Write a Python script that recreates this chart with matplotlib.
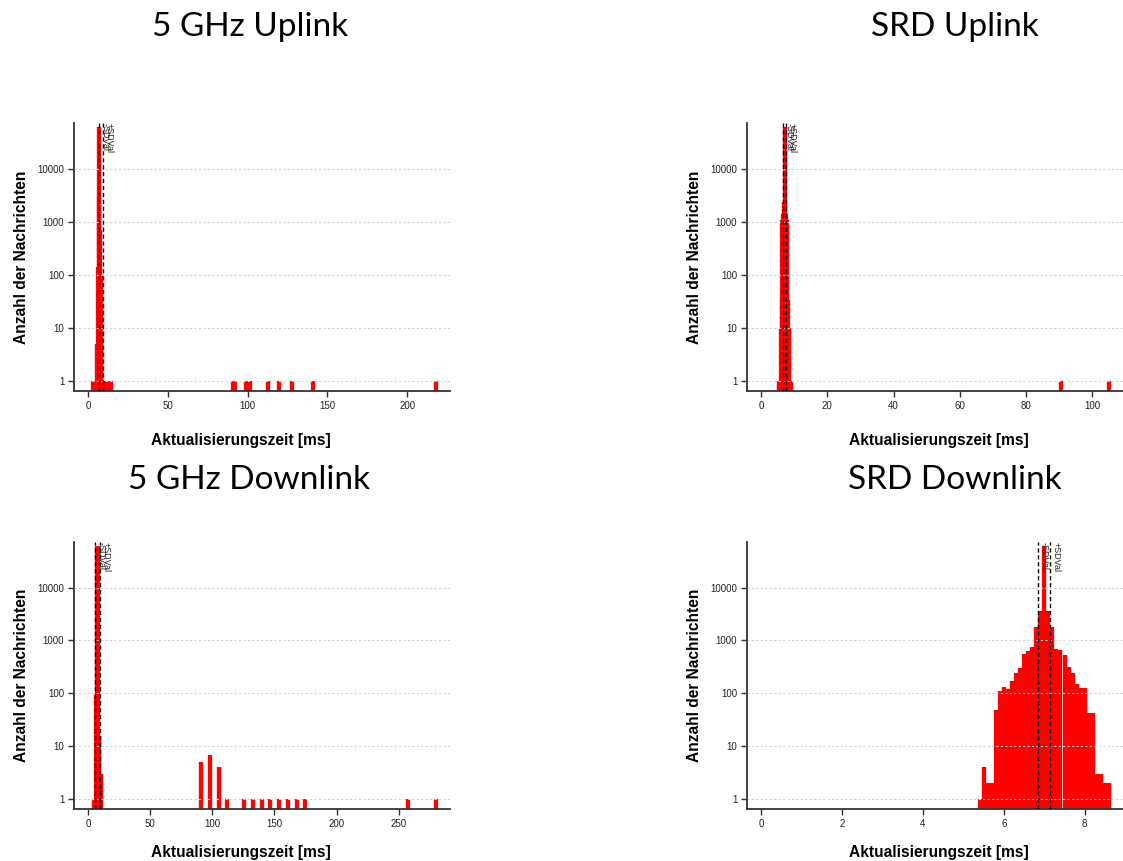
import matplotlib
matplotlib.use("Agg")
import matplotlib.pyplot as plt
from matplotlib.ticker import FixedLocator, NullLocator, FixedFormatter

# ---- update-time samples (ms) and their message counts ----
ul5_values = [3.2, 4.5, 5.9, 6.5, 6.96, 7.2, 7.58, 8.0, 8.4, 9.5, 11.0, 12.5, 14.7,
              91.0, 92.0, 99.0, 100.2, 101.7, 112.7, 119.6, 127.6, 140.8, 218.0]
ul5_counts = [1, 1, 5, 140, 2900, 60000, 700, 100, 16, 1, 1, 1, 1,
              1, 1, 1, 1, 1, 1, 1, 1, 1, 1]
ul5_sd = (6.9, 9.2)

srd_ul_values = [5.46, 5.8, 6.06, 6.27, 6.47, 6.77, 7.07, 7.12, 7.17, 7.67, 7.87,
                 8.17, 8.37, 8.8, 9.18, 90.5, 105.0]
srd_ul_counts = [1, 1, 10, 33, 1070, 1400, 2400, 60000, 2400, 1400, 1070,
                 33, 10, 1, 1, 1, 1]
srd_ul_sd = (6.7, 7.45)

dl5_values = [4.94, 5.6, 6.27, 7.0, 7.6, 8.14, 8.7, 9.2, 10.27,
              91.3, 98.2, 105.4, 112.1, 125.7, 132.6, 139.8, 146.8, 154.0,
              161.2, 168.1, 174.8, 257.8, 280.0]
dl5_counts = [1, 1, 93, 93, 60000, 60000, 16, 16, 3,
              5, 7, 4, 1, 1, 1, 1, 1, 1,
              1, 1, 1, 1, 1]
dl5_sd = (5.8, 9.4)

srd_dl_values = [5.4, 5.5, 5.6, 5.7, 5.8, 5.9, 6.0, 6.1, 6.2, 6.3, 6.4, 6.5, 6.6,
                 6.7, 6.8, 6.9, 7.0, 7.1, 7.2, 7.3, 7.4, 7.5, 7.6, 7.7, 7.8,
                 7.9, 8.0, 8.1, 8.2, 8.3, 8.4, 8.5, 8.6]
srd_dl_counts = [1, 4, 2, 2, 48, 110, 134, 122, 169, 241, 300, 545, 620,
                 750, 1790, 3630, 60000, 3630, 1790, 690, 650, 525, 318, 241, 150,
                 126, 126, 42, 42, 3, 3, 2, 2]
srd_dl_sd = (6.85, 7.14)

titles = ["5 GHz Uplink", "SRD Uplink", "5 GHz Downlink", "SRD Downlink"]
xticks_all = [[0, 50, 100, 150, 200], [0, 20, 40, 60, 80, 100],
              [0, 50, 100, 150, 200, 250], [0, 2, 4, 6, 8]]
yticks = [1, 10, 100, 1000, 10000]
ytick_labels = ["1", "10", "100", "1000", "10000"]
xlabel = "Aktualisierungszeit [ms]"
ylabel = "Anzahl der Nachrichten"

W, H = 1123, 861
fig = plt.figure(figsize=(W / 100, H / 100), dpi=100)

def rect(x0, y_top, x1, y_bot):
    return [x0 / W, 1 - y_bot / H, (x1 - x0) / W, (y_bot - y_top) / H]

rects = [rect(74, 123, 450, 391), rect(747, 123, 1123, 391),
         rect(74, 542, 450, 809.3), rect(747, 542, 1123, 809.3)]
xlabel_pos = [0.443, 0.509, 0.443, 0.509]

panels = [(ul5_values, ul5_counts, ul5_sd),
          (srd_ul_values, srd_ul_counts, srd_ul_sd),
          (dl5_values, dl5_counts, dl5_sd),
          (srd_dl_values, srd_dl_counts, srd_dl_sd)]

tick_font = dict(family="Liberation Sans", size=7, color="#222222")
label_font = dict(family="Liberation Sans", size=11.2, weight="bold", color="black")

for i, ((vals, cnts, sd), r) in enumerate(zip(panels, rects)):
    ax = fig.add_axes(r)
    ax.set_yscale("log")
    ax.vlines(vals, 1e-3, cnts, colors="#ff0000", linewidth=3.1,
              capstyle="butt", zorder=2)
    xmax = max(vals)
    ax.set_xlim(-0.04 * xmax, 1.04 * xmax)
    ax.set_ylim(10 ** -0.19, 10 ** 4.86)

    ax.yaxis.set_major_locator(FixedLocator(yticks))
    ax.yaxis.set_major_formatter(FixedFormatter(ytick_labels))
    ax.yaxis.set_minor_locator(NullLocator())
    ax.set_xticks(xticks_all[i])
    ax.set_xticklabels([str(t) for t in xticks_all[i]])
    for lab in ax.get_xticklabels() + ax.get_yticklabels():
        lab.set_fontfamily(tick_font["family"])
        lab.set_fontsize(tick_font["size"])
        lab.set_color(tick_font["color"])
    ax.tick_params(axis="both", direction="out", length=4, width=1,
                   color="#333333", pad=3)

    ax.set_axisbelow(False)
    ax.yaxis.grid(True, linestyle=(0, (2, 2)), color="#d4d4d4", linewidth=0.8)
    ax.xaxis.grid(False)

    for side in ("top", "right"):
        ax.spines[side].set_visible(False)
    for side in ("left", "bottom"):
        ax.spines[side].set_color("#333333")
        ax.spines[side].set_linewidth(1.3)

    # mean -/+ standard deviation markers
    for x, txt in zip(sd, ["-SDVal", "+SDVal"]):
        ax.axvline(x, color="black", linestyle=(0, (3, 2)), linewidth=1.0, zorder=3)
        ax.annotate(txt, xy=(x, 1), xycoords=("data", "axes fraction"),
                    xytext=(1.2, 0), textcoords="offset points",
                    rotation=270, ha="left", va="top", fontsize=6.5,
                    family="Liberation Sans", color="#222222", zorder=4)

    ax.set_xlabel(xlabel, fontdict=label_font, labelpad=13)
    ax.xaxis.set_label_coords(xlabel_pos[i], -0.155 if i < 2 else -0.135)
    ax.set_ylabel(ylabel, fontdict=label_font, labelpad=6)

# panel headings
heading_pos = [(250, 27), (955, 27), (249, 480), (955, 480)]
for (hx, hy), t in zip(heading_pos, titles):
    fig.text(hx / W, 1 - hy / H, t, ha="center", va="center",
             fontsize=24, family="Lato")

fig.savefig("out.png", dpi=100)
